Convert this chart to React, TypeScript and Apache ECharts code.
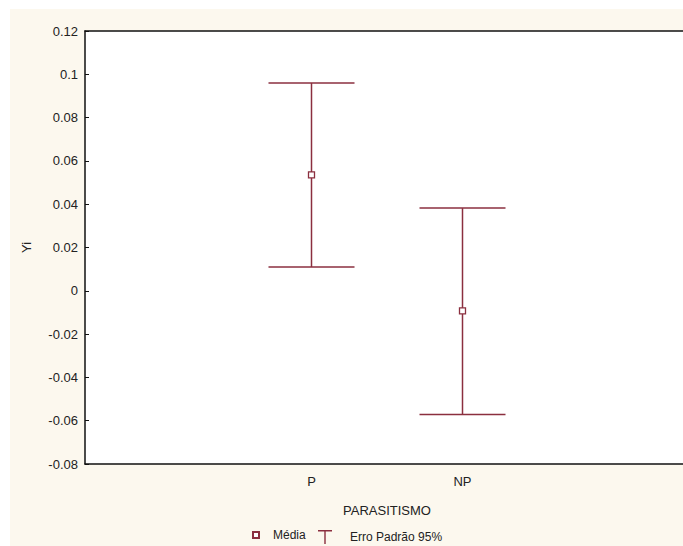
import React, { useEffect, useRef } from "react";
import * as echarts from "echarts";

const groups = ["P", "NP"];
const axisCategories = ["", "P", "NP", ""];
const means = [0.0535, -0.0093];
const lower = [0.011, -0.0571];
const upper = [0.096, 0.0382];
const yTicks = { min: -0.08, max: 0.12, interval: 0.02 };

const RED = "#8B2F3F";
const TXT = "#222222";
const FONT = "'Liberation Sans', Arial, sans-serif";

export default function App() {
  const ref = useRef<HTMLDivElement>(null);
  useEffect(() => {
    if (!ref.current) return;
    const chart = echarts.init(ref.current, undefined, { renderer: "svg" });
    const catIndex = (g: string) => axisCategories.indexOf(g);
    const meanData = groups.map((g, i) => [catIndex(g), means[i]]);
    const errData = groups.map((g, i) => [catIndex(g), lower[i], upper[i]]);
    chart.setOption({
      animation: false,
      backgroundColor: "#ffffff",
      textStyle: { fontFamily: FONT },
      graphic: [
        {
          type: "rect",
          z: -10,
          silent: true,
          shape: { x: 10, y: 9, width: 700, height: 560 },
          style: { fill: "#FCF8EE" },
        },
      ],
      grid: {
        left: 85,
        top: 31,
        right: 0,
        bottom: 82,
        show: true,
        backgroundColor: "#ffffff",
        borderWidth: 0,
      },
      legend: [
        {
          data: [{ name: "Média", icon: "rect" }],
          left: 252,
          top: 529,
          padding: 0,
          itemWidth: 6,
          itemHeight: 6,
          textStyle: { color: TXT, fontSize: 12, fontFamily: FONT, padding: [0, 0, 0, 9] },
        },
        {
          data: [
            {
              name: "Erro Padrão 95%",
              icon: "path://M0,0H14V1.5H0Z M6.3,0H7.7V14H6.3Z",
            },
          ],
          left: 318,
          top: 530,
          padding: 0,
          itemWidth: 14,
          itemHeight: 14,
          textStyle: { color: TXT, fontSize: 12, fontFamily: FONT, padding: [0, 0, 0, 13] },
        },
      ],
      xAxis: [
        {
          type: "category",
          data: axisCategories,
          position: "bottom",
          boundaryGap: true,
          name: "PARASITISMO",
          nameLocation: "middle",
          nameGap: 40,
          nameTextStyle: { color: TXT, fontSize: 13, fontFamily: FONT },
          axisLine: { onZero: false, lineStyle: { color: "#111", width: 1.5 } },
          axisTick: { alignWithLabel: true, inside: true, length: 4, interval: 0, lineStyle: { color: "#111" } },
          axisLabel: { color: TXT, fontSize: 13, margin: 11, interval: 0, fontFamily: FONT },
          splitLine: { show: false },
        },
        {
          type: "category",
          data: axisCategories,
          position: "top",
          boundaryGap: true,
          axisLine: { onZero: false, lineStyle: { color: "#111", width: 1.5 } },
          axisTick: { alignWithLabel: true, inside: true, length: 4, interval: 0, lineStyle: { color: "#111" } },
          axisLabel: { show: false },
          splitLine: { show: false },
        },
      ],
      yAxis: {
        type: "value",
        min: yTicks.min,
        max: yTicks.max,
        interval: yTicks.interval,
        name: "Yi",
        nameLocation: "middle",
        nameRotate: 90,
        nameGap: 52,
        nameTextStyle: { color: TXT, fontSize: 13, fontFamily: FONT },
        axisLine: { show: true, onZero: false, lineStyle: { color: "#111", width: 1.5 } },
        axisTick: { show: true, inside: true, length: 4, lineStyle: { color: "#111" } },
        axisLabel: {
          color: TXT,
          fontSize: 13,
          margin: 7,
          fontFamily: FONT,
          formatter: (v: number) => String(parseFloat(v.toFixed(2))),
        },
        splitLine: { show: false },
      },
      series: [
        {
          name: "Erro Padrão 95%",
          type: "custom",
          xAxisIndex: 0,
          itemStyle: { color: RED },
          data: errData,
          z: 2,
          renderItem: (params: any, api: any) => {
            const x = api.value(0);
            const lo = api.coord([x, api.value(1)]);
            const hi = api.coord([x, api.value(2)]);
            const hw = 43;
            const st = { stroke: RED, lineWidth: 1.5 };
            return {
              type: "group",
              children: [
                { type: "line", shape: { x1: lo[0], y1: lo[1], x2: hi[0], y2: hi[1] }, style: st },
                { type: "line", shape: { x1: hi[0] - hw, y1: hi[1], x2: hi[0] + hw, y2: hi[1] }, style: st },
                { type: "line", shape: { x1: lo[0] - hw, y1: lo[1], x2: lo[0] + hw, y2: lo[1] }, style: st },
              ],
            };
          },
        },
        {
          name: "Média",
          type: "scatter",
          xAxisIndex: 0,
          symbol: "rect",
          symbolSize: 6,
          z: 5,
          itemStyle: { color: "#ffffff", borderColor: RED, borderWidth: 1.3, opacity: 1 },
          data: meanData,
        },
      ],
    });
    return () => chart.dispose();
  }, []);
  return (
    <div
      style={{ position: "fixed", left: 0, top: 0, width: 683, height: 546, overflow: "hidden" }}
    >
      <div ref={ref} style={{ width: 689, height: 546 }} />
    </div>
  );
}
